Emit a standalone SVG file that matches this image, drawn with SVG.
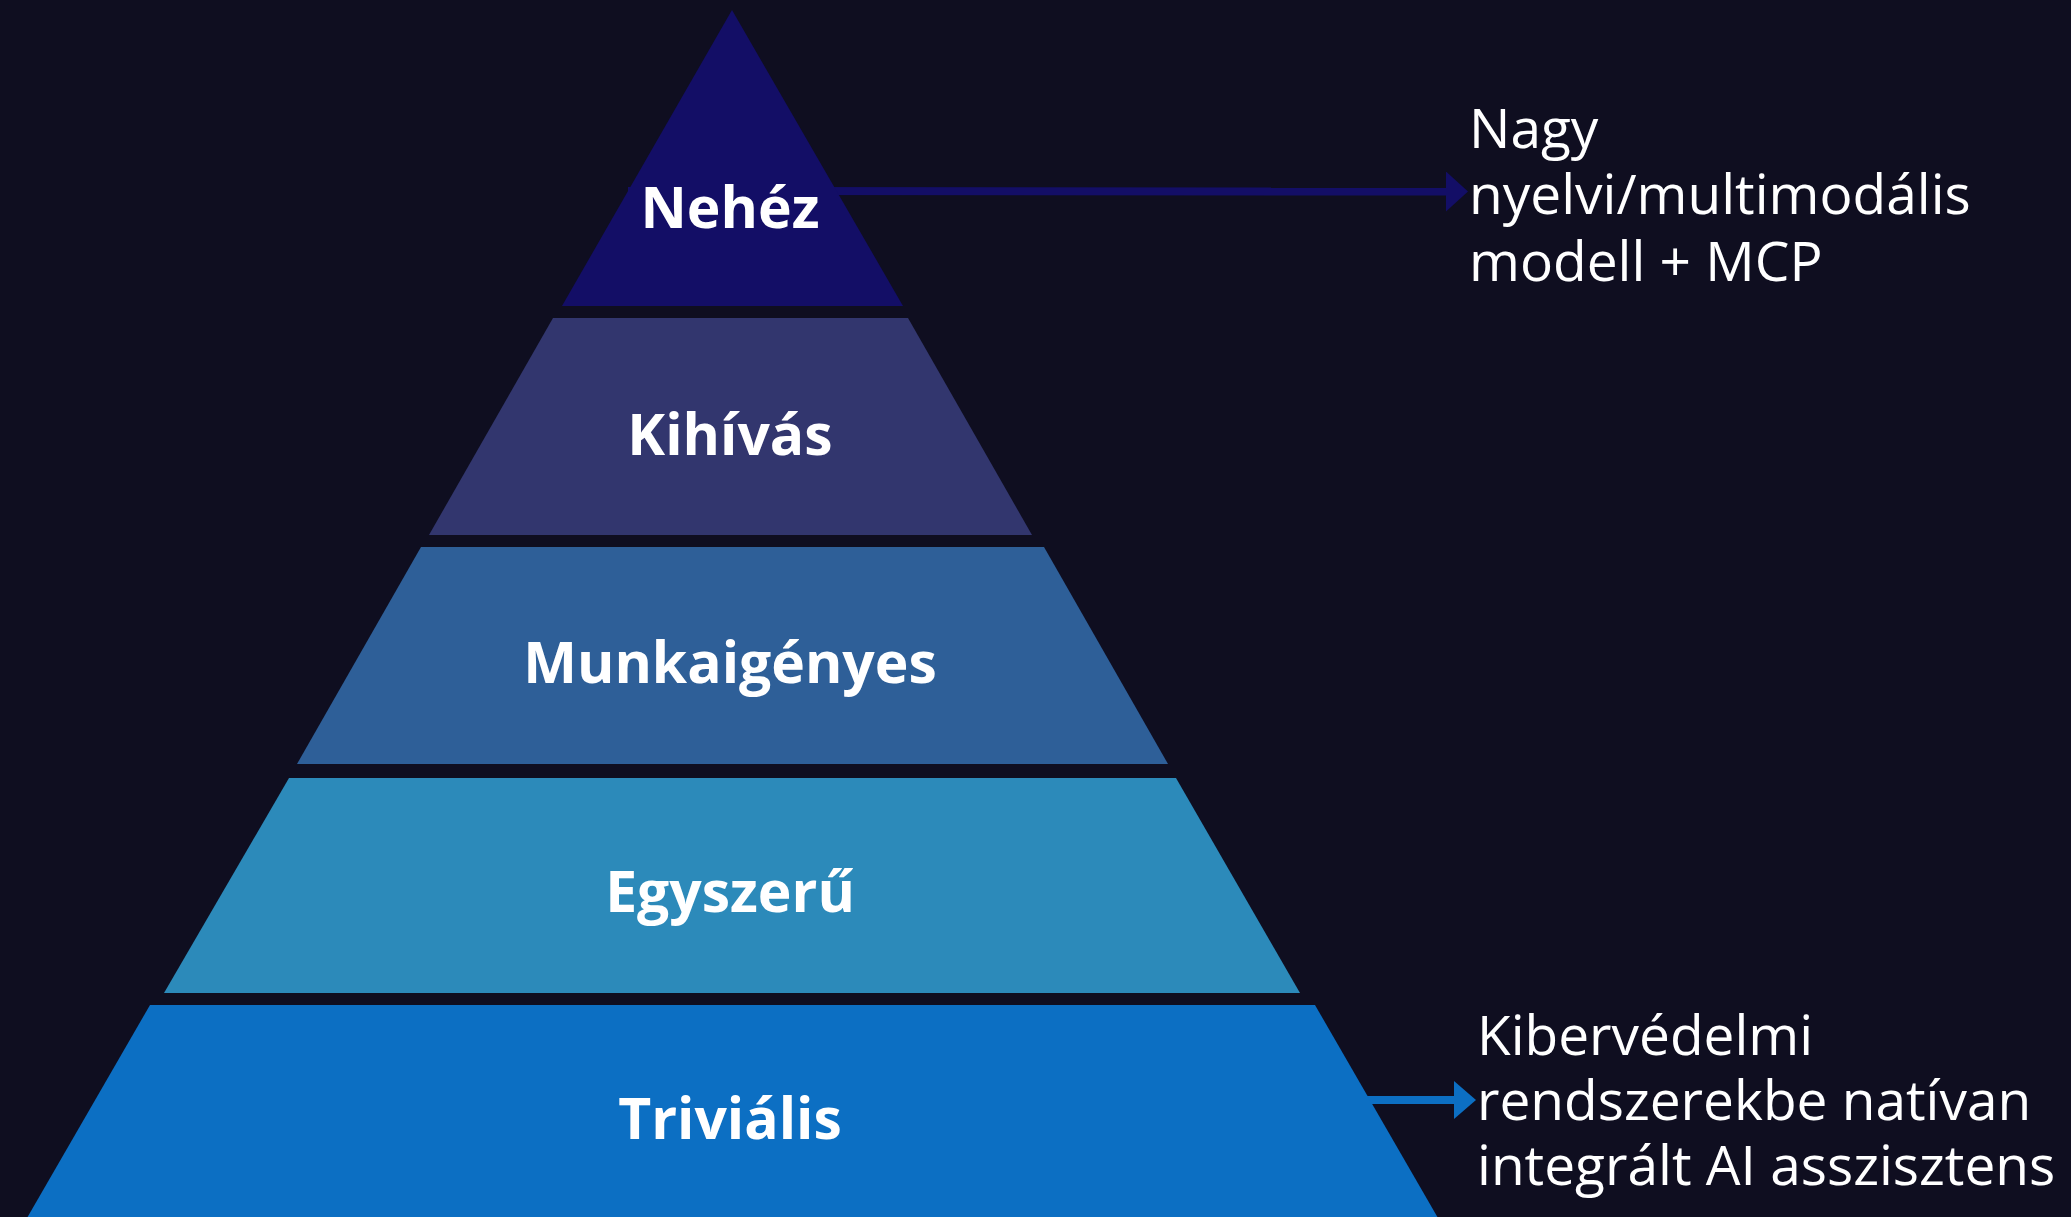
<svg xmlns="http://www.w3.org/2000/svg" width="2071" height="1217" viewBox="0 0 2071 1217">
  <style>
    .tier-label { font-family: "Open Sans", "Noto Sans", "Liberation Sans", sans-serif; font-weight: 700; font-size: 57px; fill: #ffffff; text-anchor: middle; }
    .note { font-family: "Open Sans", "Noto Sans", "Liberation Sans", sans-serif; font-weight: 400; font-size: 55px; fill: #ffffff; }
    .conn { fill: none; stroke-width: 8; }
  </style>
  <defs>
    <marker id="arrowTop" markerUnits="userSpaceOnUse" markerWidth="22" markerHeight="40" refX="0" refY="20" orient="auto">
      <path d="M0,0 L22,20 L0,40 Z" fill="#130e66"/>
    </marker>
    <marker id="arrowBottom" markerUnits="userSpaceOnUse" markerWidth="22" markerHeight="38" refX="0" refY="19" orient="auto">
      <path d="M0,0 L22,19 L0,38 Z" fill="#0c6fc3"/>
    </marker>
  </defs>
  <rect x="0" y="0" width="2071" height="1217" fill="#0f0e20"/>

  <g id="connectors">
    <line class="conn" x1="628" y1="191" x2="1446" y2="191.5" stroke="#130e66" marker-end="url(#arrowTop)"/>
    <line class="conn" x1="1360" y1="1100" x2="1454" y2="1100" stroke="#0c6fc3" marker-end="url(#arrowBottom)"/>
  </g>

  <g id="tier-nehez">
    <polygon points="732,10 903,306 562,306" fill="#130e66"/>
    <text class="tier-label" x="730" y="228">Nehéz</text>
  </g>
  <g id="tier-kihivas">
    <polygon points="553,318 908,318 1032,535 429,535" fill="#32366e"/>
    <text class="tier-label" x="730" y="455">Kihívás</text>
  </g>
  <g id="tier-munkaigenyes">
    <polygon points="421,547 1044,547 1168,764 297,764" fill="#2e5f98"/>
    <text class="tier-label" x="730" y="683">Munkaigényes</text>
  </g>
  <g id="tier-egyszeru">
    <polygon points="289,778 1176,778 1300,993 164,993" fill="#2c8aba"/>
    <text class="tier-label" x="730" y="912">Egyszerű</text>
  </g>
  <g id="tier-trivialis">
    <polygon points="150,1005 1315,1005 1438,1218 27,1218" fill="#0c6fc3"/>
    <text class="tier-label" x="730" y="1139">Triviális</text>
  </g>

  <g id="note-top">
    <text class="note" x="1469" y="148">Nagy</text>
    <text class="note" x="1469" y="214">nyelvi/multimodális</text>
    <text class="note" x="1469" y="281">modell + MCP</text>
  </g>
  <g id="note-bottom">
    <text class="note" x="1477" y="1055">Kibervédelmi</text>
    <text class="note" x="1477" y="1120">rendszerekbe natívan</text>
    <text class="note" x="1477" y="1185">integrált AI asszisztens</text>
  </g>
</svg>
